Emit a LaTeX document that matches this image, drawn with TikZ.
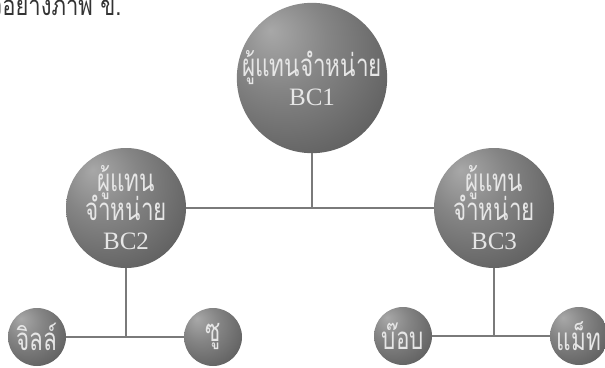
\documentclass[tikz,border=0pt]{standalone}
\usepackage{fontspec}
\setmainfont{Liberation Serif}
\newfontfamily\thaifont[Script=Thai,FakeStretch=0.72,Scale=1.25]{Loma}
\newfontfamily\capfont[Script=Thai,FakeStretch=0.8,Scale=1.25]{Loma}
\newcommand\ballfont{\fontsize{25}{29}\selectfont\lineskiplimit=-20pt\relax}
\definecolor{shA}{HTML}{A8A8A8}
\definecolor{shB}{HTML}{858585}
\definecolor{shC}{HTML}{5E5E5E}
\definecolor{shD}{HTML}{303030}
\definecolor{balltext}{HTML}{E6E6E6}
\definecolor{linkgray}{HTML}{7A7A7A}
\definecolor{capgray}{HTML}{333333}
\pgfdeclareradialshading{sphereshade}{\pgfpoint{-14bp}{16bp}}{%
  color(0bp)=(shA); color(16bp)=(shB); color(38bp)=(shC);
  color(62bp)=(shD); color(72bp)=(shD)}

\begin{document}
\begin{tikzpicture}[
      x=1pt,y=-1pt,
      ball/.style={circle,shading=sphereshade,text=balltext,inner sep=0pt,align=center,
                   font=\ballfont},
      big/.style={ball,minimum size=120pt},
      leaf/.style={ball,minimum size=58pt},
      link/.style={draw=linkgray,line width=1.6pt}
    ]
    \useasboundingbox (0,0) rectangle (605,367);

    \node[anchor=base east,text=capgray,font=\capfont\fontsize{22}{22}\selectfont]
      (cap) at (125,15) {ตัวอย่างภาพ ข.};

    \node[big,minimum size=150pt] (B1) at (312,78)
      {{\thaifont ผู้แทนจำหน่าย}\\BC1};
    \node[big] (B2) at (126,208) {{\thaifont ผู้แทน}\\{\thaifont จำหน่าย}\\BC2};
    \node[big] (B3) at (494,208) {{\thaifont ผู้แทน}\\{\thaifont จำหน่าย}\\BC3};

    \node[leaf] (Jill) at (37,337) {\thaifont จิลล์};
    \node[leaf] (Su)   at (213,337) {\thaifont ซู};
    \node[leaf] (Bob)  at (403,336) {\thaifont บ๊อบ};
    \node[leaf] (Matt) at (579,336) {\thaifont แม็ท};

    \draw[link] (B2) -- (B3);
    \draw[link] (B1) -- (B1 |- B2);
    \draw[link] (B2) -- (B2 |- Jill);
    \draw[link] (Jill) -- (Su);
    \draw[link] (B3) -- (B3 |- Bob);
    \draw[link] (Bob) -- (Matt);

  \end{tikzpicture}
\end{document}
